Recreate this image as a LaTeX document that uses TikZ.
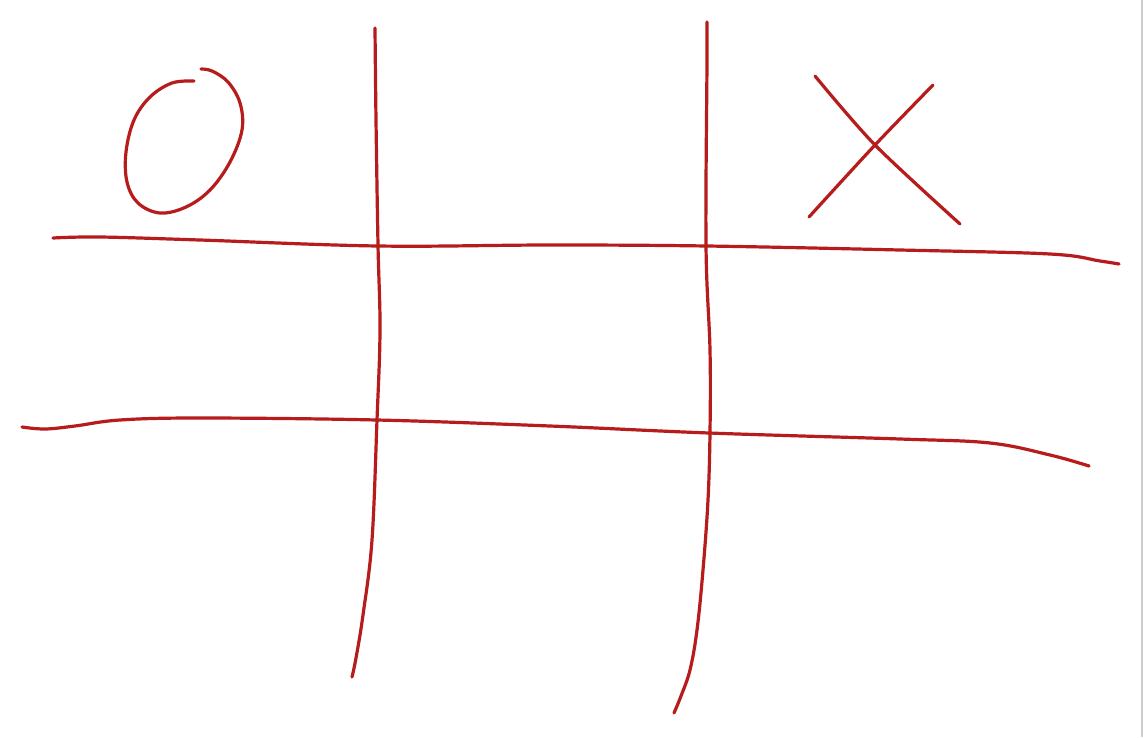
\documentclass[tikz,border=0pt]{standalone}
\definecolor{ink}{RGB}{183,28,28}
\definecolor{edge}{RGB}{205,205,205}
\begin{document}
\begin{tikzpicture}[x=1pt,y=-1pt,
  stroke/.style={draw=ink,line width=3.2pt,line cap=round,line join=round}]
\useasboundingbox (0,0) rectangle (1143,737);
\fill[white] (0,0) rectangle (1143,737);
\draw[edge,line width=1.5pt] (1142,0) -- (1142,737);
% vertical line 1
\draw[stroke] plot[smooth,tension=0.6] coordinates {(375,28) (376,120) (378,245) (380,330) (377,420) (372,540) (363,615) (356,658) (352,677)};
% vertical line 2
\draw[stroke] plot[smooth,tension=0.6] coordinates {(707,22) (707,60) (706,245) (710,350) (710,432) (708,500) (703,570) (697,630) (690,670) (681,696) (674,713)};
% horizontal line 1
\draw[stroke] plot[smooth,tension=0.6] coordinates {(53,238) (100,237) (200,240) (378,246) (550,245) (707,246) (900,250) (1050,254) (1100,261) (1119,264)};
% horizontal line 2
\draw[stroke] plot[smooth,tension=0.6] coordinates {(22,427) (45,429) (75,426) (120,420) (200,418) (377,420) (550,426) (709,433) (900,439) (990,443) (1050,455) (1089,466)};
% O
\draw[stroke] plot[smooth,tension=0.6] coordinates {(194,81) (172,83) (150,97) (134,120) (126,152) (127,182) (138,203) (160,213) (186,207) (210,190) (230,162) (242,130) (240,103) (228,82) (212,71) (201,69)};
% X
\draw[stroke] plot[smooth,tension=0.5] coordinates {(815,76) (875,145) (960,224)};
\draw[stroke] plot[smooth,tension=0.5] coordinates {(933,85) (875,145) (809,217)};
\end{tikzpicture}
\end{document}
